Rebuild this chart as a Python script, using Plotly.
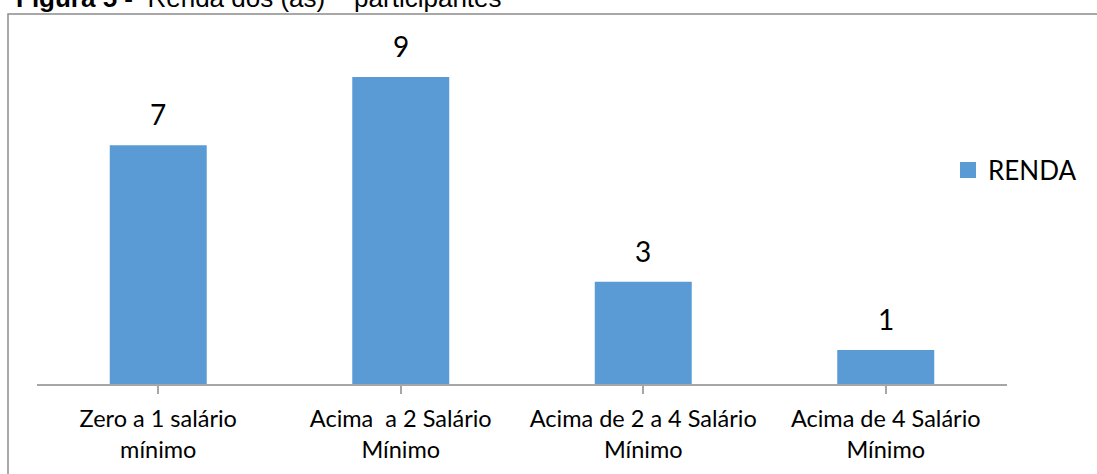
import plotly.graph_objects as go

# Renda dos participantes
categorias = [
    "Zero a 1 salário<br>mínimo",
    "Acima  a 2 Salário<br>Mínimo",
    "Acima de 2 a 4 Salário<br>Mínimo",
    "Acima de 4 Salário<br>Mínimo",
]
renda = [7, 9, 3, 1]
serie_nome = "RENDA"

BAR_COLOR = "#5b9bd5"
FONT = "Lato, 'Open Sans', sans-serif"

W, H = 1097, 474
ML, MR, MT, MB = 37, 90, 43, 90
PW, PH = W - ML - MR, H - MT - MB


def px_x(px):
    return (px - ML) / PW


def px_y(py):
    return (H - MB - py) / PH


fig = go.Figure()
fig.add_trace(go.Bar(
    x=list(range(len(categorias))),
    y=renda,
    name=serie_nome,
    marker=dict(color=BAR_COLOR, line=dict(width=0)),
    showlegend=False,
))
# legend entry with a larger square key
fig.add_trace(go.Scatter(
    x=[None], y=[None], mode="markers", name=serie_nome,
    marker=dict(symbol="square", size=16, color=BAR_COLOR),
    showlegend=True,
))

# value labels above each bar
for i, v in enumerate(renda):
    fig.add_annotation(
        x=i, y=v, xref="x", yref="y", text=str(v), showarrow=False,
        yanchor="bottom", yshift=12,
        font=dict(family=FONT, size=28, color="#000000"),
    )

# figure caption (sits on the top edge of the page)
fig.add_annotation(
    x=0, y=1, xref="paper", yref="paper", xanchor="left", yanchor="middle",
    xshift=-23, yshift=45, showarrow=False, align="left",
    text="<b>Figura 5 -</b>  Renda dos (as)    participantes",
    font=dict(family="'Liberation Sans', Arial, sans-serif", size=26, color="#000000"),
)

# chart frame
fig.add_shape(
    type="rect", xref="paper", yref="paper",
    x0=px_x(8), x1=px_x(1110), y0=px_y(14), y1=px_y(490),
    line=dict(color="#8c8c8c", width=1.5), fillcolor="rgba(0,0,0,0)", layer="below",
)

fig.update_layout(
    width=W, height=H,
    margin=dict(l=ML, r=MR, t=MT, b=MB),
    paper_bgcolor="white", plot_bgcolor="white",
    bargap=0.6,
    font=dict(family=FONT, color="#000000"),
    legend=dict(
        x=px_x(948), y=px_y(170), xanchor="left", yanchor="middle",
        font=dict(family=FONT, size=26, color="#000000"),
        bgcolor="rgba(0,0,0,0)", itemwidth=30,
    ),
    xaxis=dict(
        tickmode="array", tickvals=list(range(len(categorias))), ticktext=categorias,
        range=[-0.5, len(categorias) - 0.5],
        showline=True, linecolor="#a6a6a6", linewidth=1.5,
        ticks="outside", tickson="boundaries", ticklen=8, tickcolor="#a6a6a6", tickwidth=1.5,
        tickfont=dict(family=FONT, size=23.5, color="#000000"),
        ticklabelstandoff=5,
        showgrid=False, zeroline=False, fixedrange=True,
    ),
    yaxis=dict(range=[0, 10], visible=False, showgrid=False, zeroline=False, fixedrange=True),
)

fig.write_html("out.html")
